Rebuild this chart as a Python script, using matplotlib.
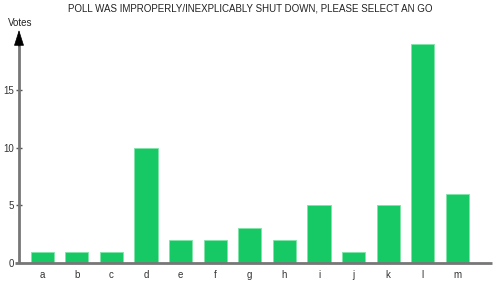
import matplotlib
matplotlib.use("Agg")
import matplotlib.pyplot as plt

# Poll results
categories = ['a', 'b', 'c', 'd', 'e', 'f', 'g', 'h', 'i', 'j', 'k', 'l', 'm']
votes = [1, 1, 1, 10, 2, 2, 3, 2, 5, 1, 5, 19, 6]
y_ticks = [0, 5, 10, 15]

TITLE = "POLL WAS IMPROPERLY/INEXPLICABLY SHUT DOWN, PLEASE SELECT AN GO"


def plot_votes():

    plt.rcParams['font.family'] = ['Liberation Sans', 'DejaVu Sans']
    fig = plt.figure(figsize=(5, 3), dpi=100)
    ax = fig.add_axes([0.038, 0.123, 0.946, 0.777])

    x = list(range(len(categories)))
    ax.bar(x, votes, width=0.67, color='#16c964', edgecolor='#7fe3a6', linewidth=0.6, zorder=2)

    ax.set_xlim(-0.67, 13.0)
    ax.set_ylim(0, 20.2)

    for s in ax.spines:
        ax.spines[s].set_visible(False)

    # x axis, sticking out a bit on the left
    ax.plot([-0.8, 13.0], [0, 0], color='#777777', lw=2, clip_on=False, zorder=3,
            solid_capstyle='butt')

    # y axis: gray line with black arrow head
    ax.plot([0, 0], [0, 0.95], transform=ax.transAxes, color='#777777', lw=2,
            clip_on=False, zorder=3, solid_capstyle='butt')
    ax.annotate('', xy=(0, 1.0), xycoords='axes fraction', xytext=(0, 0.93),
                textcoords='axes fraction',
                arrowprops=dict(arrowstyle='-|>,head_length=0.85,head_width=0.27',
                                color='black', lw=0.5, shrinkA=0, shrinkB=0,
                                mutation_scale=12), annotation_clip=False)

    ax.set_xticks(x)
    ax.set_xticklabels(categories)
    ax.tick_params(axis='x', length=0, pad=5, labelsize=7, labelcolor='#333333')
    ax.set_yticks(y_ticks)
    ax.tick_params(axis='y', length=5, width=1, color='#555555', pad=1,
                   labelsize=7, labelcolor='#333333', direction='inout')

    fig.text(0.5, 0.972, TITLE, ha='center', va='center', fontsize=7, color='#222222')
    fig.text(0.04, 0.922, 'Votes', ha='center', va='center', fontsize=7, color='#222222')

    fig.savefig('out.png', dpi=100)


def main():

    plot_votes()


if __name__ == "__main__":
    main()
